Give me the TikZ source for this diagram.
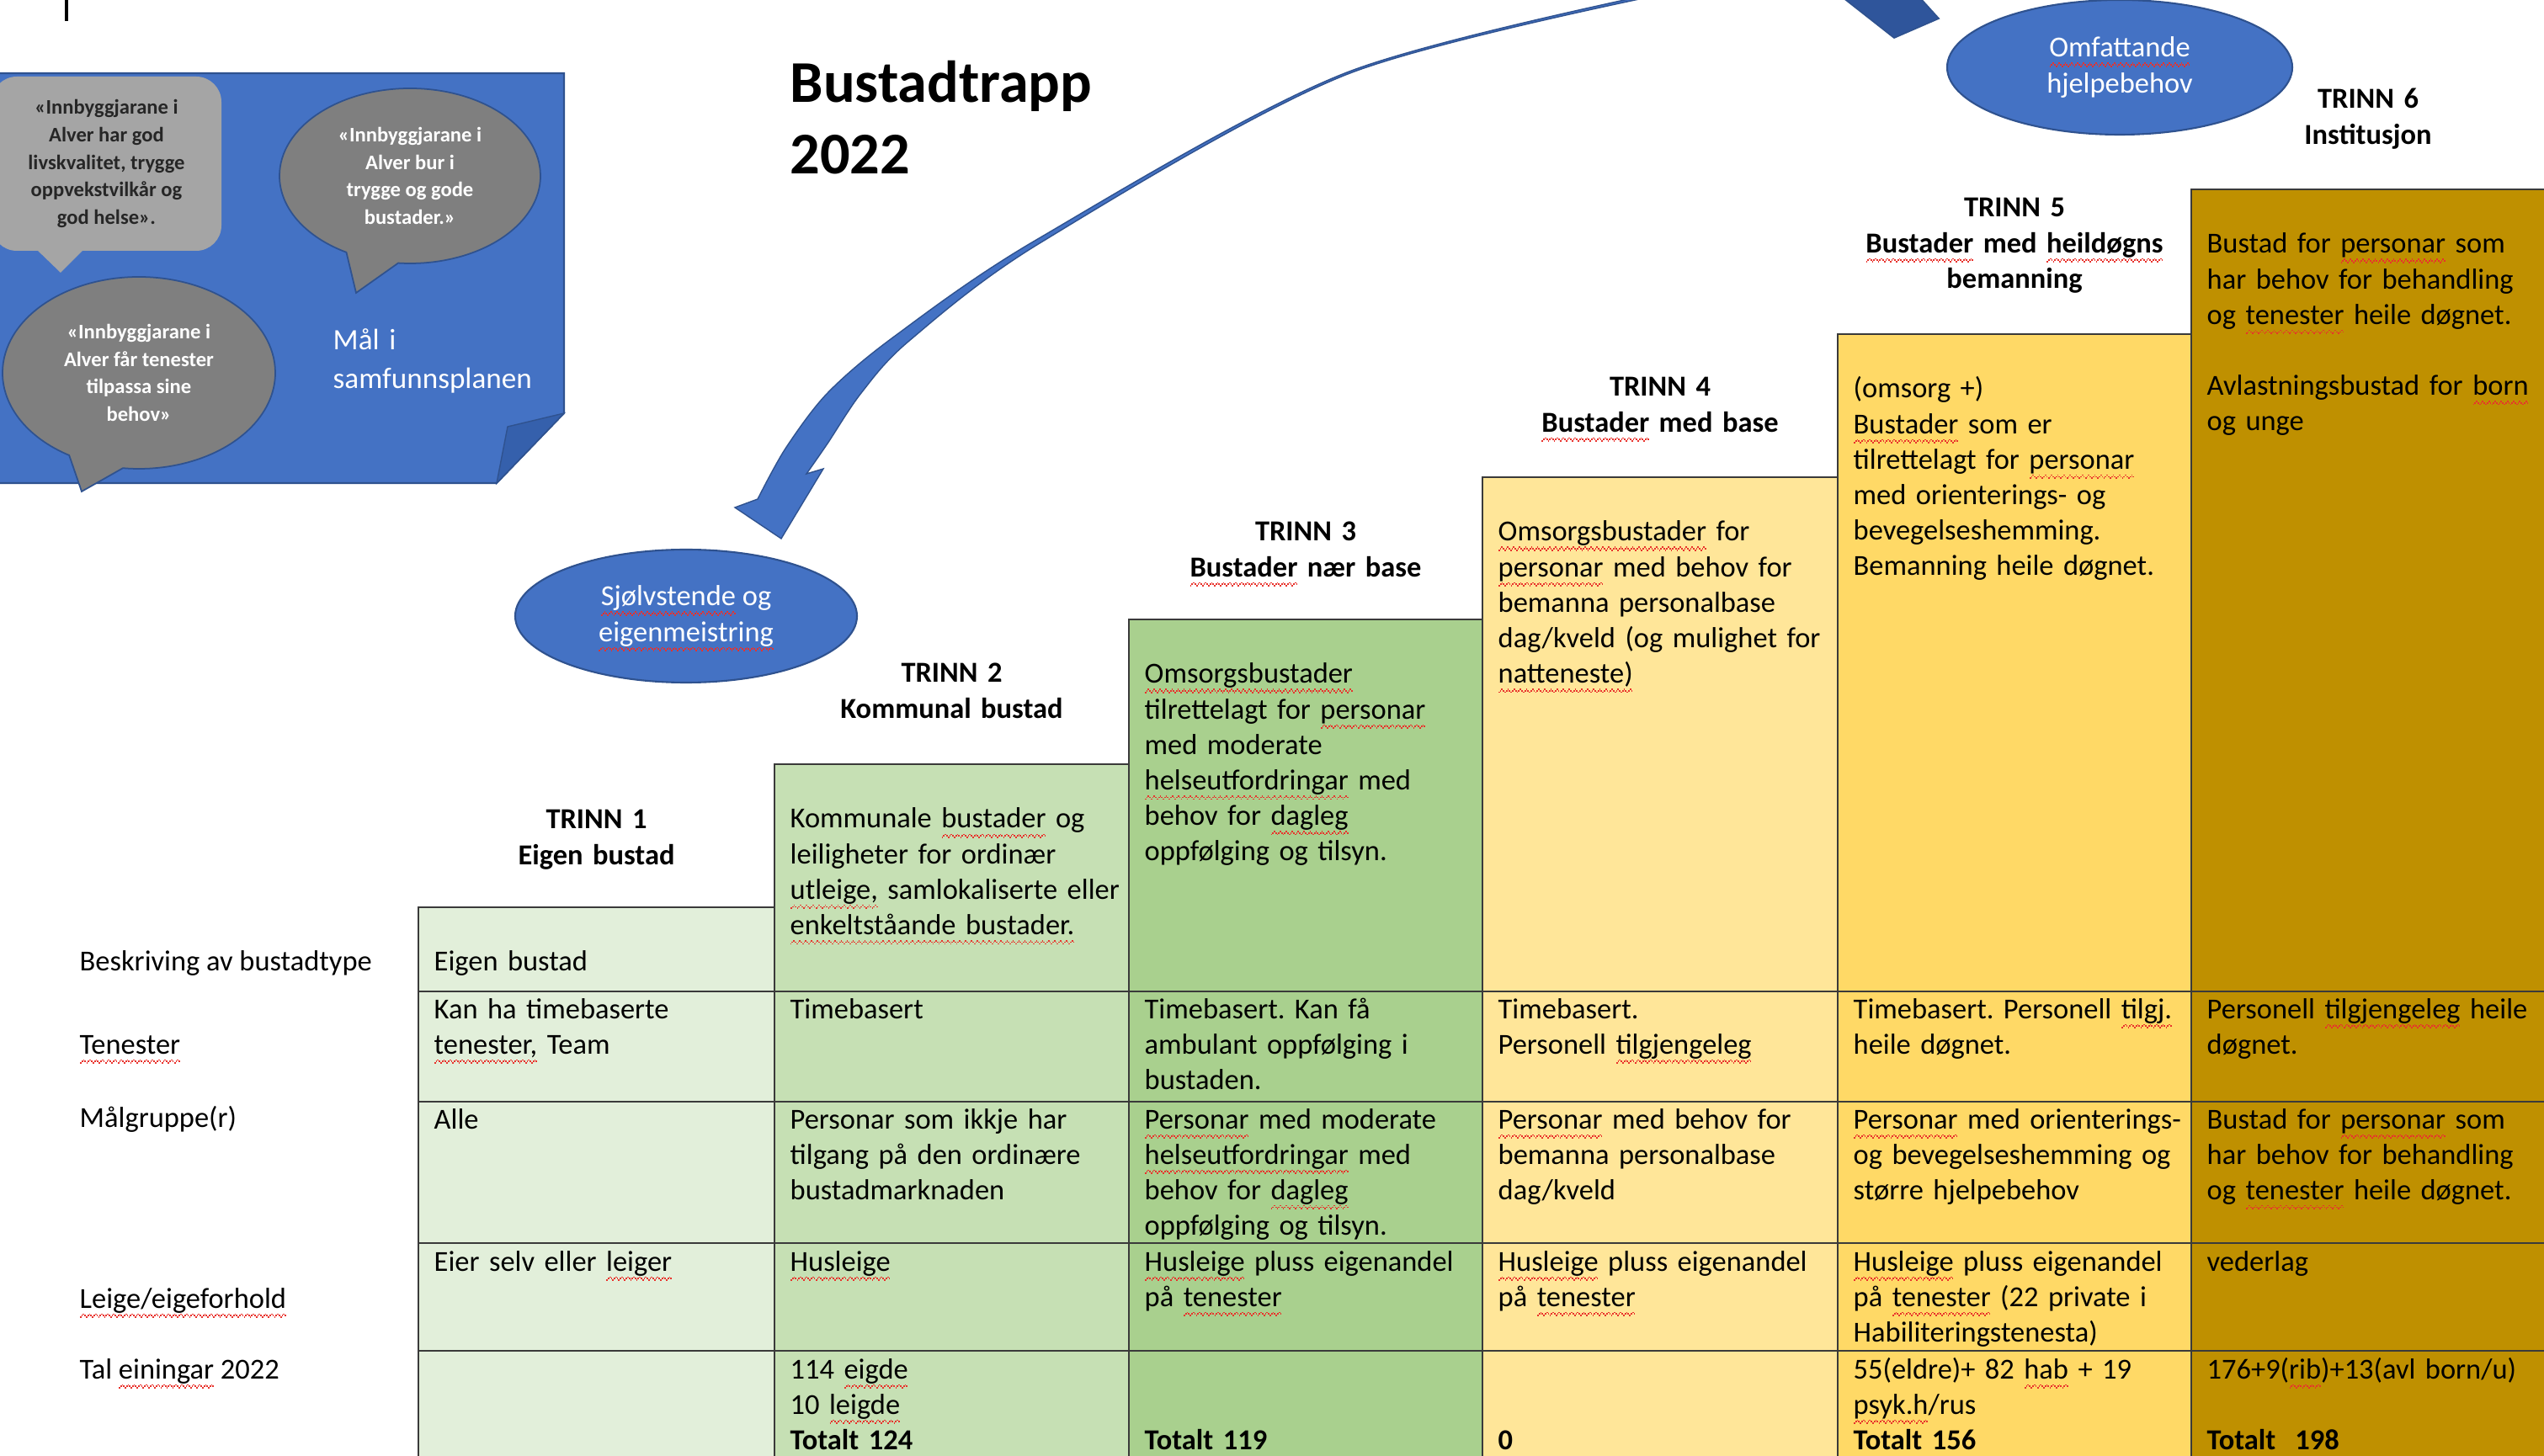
\documentclass[tikz,border=0pt]{standalone}
\usepackage{fontspec}
\setmainfont{Carlito}
\usetikzlibrary{shapes.geometric,shapes.callouts}

\definecolor{boxblue}{HTML}{4472C4}
\definecolor{edgeblue}{HTML}{2F528F}
\definecolor{folddark}{HTML}{3560AC}
\definecolor{taildark}{HTML}{2F559B}
\definecolor{bubblegrey}{HTML}{7F7F7F}
\definecolor{bubblelight}{HTML}{A5A5A5}
\definecolor{linegrey}{HTML}{3A3A3A}
\definecolor{squig}{HTML}{E8322C}
\definecolor{trinnA}{HTML}{E2EFDA}
\definecolor{trinnB}{HTML}{C6E0B4}
\definecolor{trinnC}{HTML}{A9D08E}
\definecolor{trinnD}{HTML}{FFE699}
\definecolor{trinnE}{HTML}{FFD966}
\definecolor{trinnF}{HTML}{BF9000}

\frenchspacing
\newsavebox\spellbox
\newcommand\spellwave{\hbox{{\color{squig}\rule[-3.3pt]{0.5pt}{0.45pt}\rule[-2.8pt]{0.5pt}{0.45pt}%
  \rule[-2.3pt]{0.5pt}{0.45pt}\rule[-2.8pt]{0.5pt}{0.45pt}}}}
\newcommand\spellmark[1]{\sbox\spellbox{#1}\leavevmode
  \rlap{\smash{\hbox to \wd\spellbox{\xleaders\spellwave\hfill}}}\usebox\spellbox}
\newcommand\cellfont{\fontsize{9.8}{12}\selectfont}
\newcommand\bubblefont{\fontsize{7}{9.3}\selectfont\bfseries}
\newcommand\titlefont{\fontsize{20}{24}\selectfont\bfseries}

\begin{document}
\begin{tikzpicture}[
    cell/.style={anchor=base west,inner sep=0pt,text width=4.05cm,align=left,font=\cellfont},
    trinnhead/.style={anchor=base,inner sep=0pt,text width=4.2cm,align=center,font=\cellfont\bfseries},
    rowlabel/.style={anchor=base west,inner sep=0pt,font=\cellfont},
    goal/.style={ellipse callout,fill=bubblegrey,draw=edgeblue,line width=0.5pt,text=white,
      font=\bubblefont,align=center,inner sep=0pt,callout pointer arc=24},
    trinnoval/.style={ellipse,fill=boxblue,draw=edgeblue,line width=0.6pt,text=white,
      font=\cellfont,align=center,inner sep=0pt},
    tablerule/.style={draw=linegrey,line width=0.8pt}]
      \useasboundingbox (0,0) rectangle (30.22,-17.30);
      \clip (0,0) rectangle (30.22,-17.30);
      \draw[line width=1pt] (0.79,0.05) -- (0.79,-0.25);

      \filldraw[fill=boxblue,draw=edgeblue,line width=0.6pt] (-0.1,-0.87) -- (6.70,-0.87)
        -- (6.70,-4.91) -- (5.90,-5.74) -- (-0.1,-5.74) -- cycle;
      \filldraw[fill=folddark,draw=edgeblue,line width=0.4pt] (6.70,-4.91) -- (6.03,-5.07)
        -- (5.90,-5.74) -- cycle;
      \node[fill=bubblelight,rounded corners=0.3cm,minimum width=2.73cm,minimum height=2.07cm,
        inner sep=0pt,font=\bubblefont,text=black!85,align=center] (goal1) at (1.265,-1.945)
        {«Innbyggjarane i\\Alver har god\\livskvalitet, trygge\\oppvekstvilkår og\\god helse».};
      \fill[bubblelight] (0.43,-2.96) -- (0.72,-3.24) -- (1.00,-2.96) -- cycle;
      \node[goal,minimum width=3.10cm,minimum height=2.08cm,callout absolute pointer={(4.23,-3.48)}]
        (goal2) at (4.87,-2.09) {«Innbyggjarane i\\Alver bur i\\trygge og gode\\bustader.»};
      \node[goal,minimum width=3.24cm,minimum height=2.28cm,callout absolute pointer={(0.97,-5.84)}]
        (goal3) at (1.65,-4.43) {«Innbyggjarane i\\Alver får tenester\\tilpassa sine\\behov»};
      \node[anchor=base west,inner sep=0pt,text width=3cm,align=left,
        font=\fontsize{10}{13}\selectfont,text=white] (maalplan) at (3.95,-4.16) {Mål i\\samfunnsplanen};

      \node[anchor=base west,inner sep=0pt,font=\titlefont] (title) at (9.38,-1.22) {Bustadtrapp};
      \node[anchor=base west,inner sep=0pt,font=\titlefont] (titleyear) at (9.38,-2.07) {2022};

      \filldraw[fill=boxblue,draw=edgeblue,line width=0.4pt]
        plot[smooth,tension=0.5] coordinates {(20.10,0.17) (16.00,-0.86) (12.31,-2.85)
          (10.62,-4.00) (9.83,-4.67) (9.33,-5.33) (9.00,-5.93)}
        -- (8.73,-6.03) -- (9.28,-6.40) -- (9.78,-5.57)
        -- plot[smooth,tension=0.5] coordinates {(9.58,-5.63) (9.83,-5.27) (10.23,-4.67)
          (10.80,-4.05) (12.35,-2.89) (16.01,-0.88) (20.10,0.14)}
        -- cycle;
      \filldraw[fill=taildark,draw=edgeblue,line width=0.5pt] (21.80,0.10) -- (22.50,-0.45)
        -- (23.03,-0.22) -- (22.74,0.10) -- cycle;
      \node[trinnoval,minimum width=4.06cm,minimum height=1.58cm] (sjolv) at (8.15,-7.32)
        {\spellmark{Sjølvstende} og\\\spellmark{eigenmeistring}};
      \node[trinnoval,minimum width=4.10cm,minimum height=1.60cm] (omfatt) at (25.18,-0.80)
        {\spellmark{Omfattande}\\hjelpebehov};

      \filldraw[fill=trinnA,tablerule] (4.97,-10.78) rectangle (9.20,-17.40);
      \filldraw[fill=trinnB,tablerule] (9.20,-9.08) rectangle (13.41,-17.40);
      \filldraw[fill=trinnC,tablerule] (13.41,-7.36) rectangle (17.61,-17.40);
      \filldraw[fill=trinnD,tablerule] (17.61,-5.67) rectangle (21.83,-17.40);
      \filldraw[fill=trinnE,tablerule] (21.83,-3.97) rectangle (26.03,-17.40);
      \filldraw[fill=trinnF,tablerule] (26.03,-2.25) rectangle (30.40,-17.40);
      \draw[tablerule] (4.97,-11.78) -- (30.40,-11.78);
      \draw[tablerule] (4.97,-13.09) -- (30.40,-13.09);
      \draw[tablerule] (4.97,-14.77) -- (30.40,-14.77);
      \draw[tablerule] (4.97,-16.05) -- (30.40,-16.05);

      \node[trinnhead] (trinn1) at (7.085,-9.85) {TRINN 1\\Eigen bustad};
      \node[trinnhead] (trinn2) at (11.305,-8.11) {TRINN 2\\Kommunal bustad};
      \node[trinnhead] (trinn3) at (15.51,-6.43) {TRINN 3\\\spellmark{Bustader} nær base};
      \node[trinnhead] (trinn4) at (19.72,-4.71) {TRINN 4\\\spellmark{Bustader} med base};
      \node[trinnhead] (trinn5) at (23.93,-2.58)
        {TRINN 5\\\spellmark{Bustader} med \spellmark{heildøgns}\\bemanning};
      \node[trinnhead] (trinn6) at (28.13,-1.29) {TRINN 6\\Institusjon};

      \node[rowlabel] (lbltype) at (0.94,-11.54) {Beskriving av bustadtype};
      \node[rowlabel] (lblserv) at (0.94,-12.52) {\spellmark{Tenester}};
      \node[rowlabel] (lbltarget) at (0.94,-13.39) {Målgruppe(r)};
      \node[rowlabel] (lblrent) at (0.94,-15.54) {\spellmark{Leige/eigeforhold}};
      \node[rowlabel] (lblcount) at (0.94,-16.38) {Tal \spellmark{einingar} 2022};

      \node[cell] (type1) at (5.15,-11.54) {Eigen bustad};
      \node[cell] (type2) at (9.38,-9.84) {Kommunale \spellmark{bustader} og\\leiligheter for ordinær\\
        \spellmark{utleige,} samlokaliserte eller\\\spellmark{enkeltståande bustader.}};
      \node[cell] (type3) at (13.59,-8.12) {\spellmark{Omsorgsbustader}\\tilrettelagt for \spellmark{personar}\\
        med moderate\\\spellmark{helseutfordringar} med\\behov for \spellmark{dagleg}\\oppfølging og tilsyn.};
      \node[cell] (type4) at (17.79,-6.43) {\spellmark{Omsorgsbustader} for\\\spellmark{personar} med behov for\\
        bemanna personalbase\\dag/kveld (og mulighet for\\\spellmark{natteneste)}};
      \node[cell] (type5) at (22.01,-4.73) {(omsorg +)\\\spellmark{Bustader} som er\\
        tilrettelagt for \spellmark{personar}\\med orienterings- og\\bevegelseshemming.\\Bemanning heile døgnet.};
      \node[cell] (type6) at (26.21,-3.01) {Bustad for \spellmark{personar} som\\har behov for behandling\\
        og \spellmark{tenester} heile døgnet.\\[12pt]Avlastningsbustad for \spellmark{born}\\og unge};

      \node[cell] (serv1) at (5.15,-12.10) {Kan ha timebaserte\\\spellmark{tenester,} Team};
      \node[cell] (serv2) at (9.38,-12.10) {Timebasert};
      \node[cell] (serv3) at (13.59,-12.10) {Timebasert. Kan få\\ambulant oppfølging i\\bustaden.};
      \node[cell] (serv4) at (17.79,-12.10) {Timebasert.\\Personell \spellmark{tilgjengeleg}};
      \node[cell] (serv5) at (22.01,-12.10) {Timebasert. Personell \spellmark{tilgj.}\\heile døgnet.};
      \node[cell] (serv6) at (26.21,-12.10) {Personell \spellmark{tilgjengeleg} heile\\døgnet.};

      \node[cell] (target1) at (5.15,-13.41) {Alle};
      \node[cell] (target2) at (9.38,-13.41) {Personar som ikkje har\\tilgang på den ordinære\\bustadmarknaden};
      \node[cell] (target3) at (13.59,-13.41) {\spellmark{Personar} med moderate\\
        \spellmark{helseutfordringar} med\\behov for \spellmark{dagleg}\\oppfølging og tilsyn.};
      \node[cell] (target4) at (17.79,-13.41) {\spellmark{Personar} med behov for\\bemanna personalbase\\dag/kveld};
      \node[cell] (target5) at (22.01,-13.41) {\spellmark{Personar} med orienterings-\\
        og bevegelseshemming og\\større hjelpebehov};
      \node[cell] (target6) at (26.21,-13.41) {Bustad for \spellmark{personar} som\\har behov for behandling\\
        og \spellmark{tenester} heile døgnet.};

      \node[cell] (rent1) at (5.15,-15.10) {Eier selv eller \spellmark{leiger}};
      \node[cell] (rent2) at (9.38,-15.10) {\spellmark{Husleige}};
      \node[cell] (rent3) at (13.59,-15.10) {\spellmark{Husleige} pluss eigenandel\\på \spellmark{tenester}};
      \node[cell] (rent4) at (17.79,-15.10) {\spellmark{Husleige} pluss eigenandel\\på \spellmark{tenester}};
      \node[cell] (rent5) at (22.01,-15.10) {\spellmark{Husleige} pluss eigenandel\\
        på \spellmark{tenester} (22 private i\\Habiliteringstenesta)};
      \node[cell] (rent6) at (26.21,-15.10) {vederlag};

      \node[cell] (count2) at (9.38,-16.38) {114 \spellmark{eigde}\\10 \spellmark{leigde}\\\textbf{Totalt 124}};
      \node[cell] (count3) at (13.59,-17.22) {\textbf{Totalt 119}};
      \node[cell] (count4) at (17.79,-17.22) {\textbf{0}};
      \node[cell] (count5) at (22.01,-16.38) {55(eldre)+ 82 \spellmark{hab} + 19\\\spellmark{psyk.h}/rus\\
        \textbf{Totalt 156}};
      \node[cell] (count6) at (26.21,-16.38) {176+9(\spellmark{rib})+13(avl born/u)\\[12pt]
        \textbf{Totalt\ \ 198}};
\end{tikzpicture}
\end{document}
